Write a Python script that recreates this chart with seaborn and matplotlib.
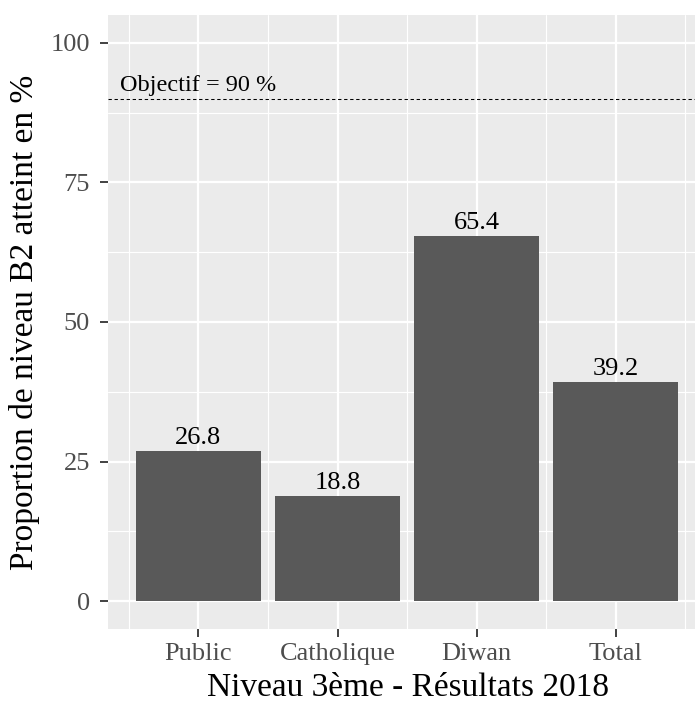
import matplotlib
matplotlib.use("Agg")
import matplotlib.pyplot as plt
import seaborn as sns
import pandas as pd
from matplotlib.ticker import FixedLocator

categories = ["Public", "Catholique", "Diwan", "Total"]
values = [26.8, 18.8, 65.4, 39.2]
objective = 90
y_ticks = [0, 25, 50, 75, 100]

sns.set_theme(style="darkgrid", rc={
    "axes.facecolor": "#EBEBEB",
    "grid.color": "white",
})
plt.rcParams["font.family"] = ["Liberation Serif", "DejaVu Serif"]

df = pd.DataFrame({"cat": categories, "val": values})

fig = plt.figure(figsize=(6.95, 7.04), dpi=100)
W, H = 695, 704
ax = fig.add_axes([108 / W, (H - 629) / H, (695 - 108) / W, (629 - 15) / H])

sns.barplot(data=df, x="cat", y="val", color="#595959", saturation=1,
            width=0.9, ax=ax, zorder=3, linewidth=0, edgecolor="none")

ax.set_xlim(-0.65, 3.57)
ax.set_ylim(-5, 105)
ax.yaxis.set_major_locator(FixedLocator(y_ticks))
ax.yaxis.set_minor_locator(FixedLocator([12.5, 37.5, 62.5, 87.5]))
ax.xaxis.set_minor_locator(FixedLocator([-0.5, 0.5, 1.5, 2.5, 3.5]))
ax.grid(which="major", color="white", linewidth=1.6, zorder=0)
ax.grid(which="minor", color="white", linewidth=0.8, zorder=0)
ax.set_axisbelow(True)
for s in ax.spines.values():
    s.set_visible(False)

ax.tick_params(axis="both", which="major", length=6, width=1.3, color="#333333",
               labelcolor="#4D4D4D", labelsize=19, bottom=True, left=True)
ax.tick_params(axis="y", which="major", pad=7)
ax.tick_params(axis="x", which="major", pad=4)
ax.tick_params(axis="both", which="minor", length=0)

for c in ax.containers:
    ax.bar_label(c, fmt="%.1f", padding=1.5, fontsize=19, color="black")

ax.axhline(objective, color="black", linestyle=(0, (3.2, 2.6)), linewidth=0.75, zorder=4)
ax.text(-0.564, objective + 1.3, f"Objectif = {objective} %", fontsize=17.5,
        color="black", ha="left", va="baseline")

ax.set_xlabel("Niveau 3ème - Résultats 2018", fontsize=24, color="black")
ax.set_ylabel("Proportion de niveau B2 atteint en %", fontsize=24, color="black")
ax.xaxis.label.set_va("bottom")
ax.xaxis.set_label_coords((408 - 108) / 587, (629 - 703) / 614)
ax.yaxis.set_label_coords((40 - 108) / 587, 0.5)

fig.savefig("out.png", dpi=100)
